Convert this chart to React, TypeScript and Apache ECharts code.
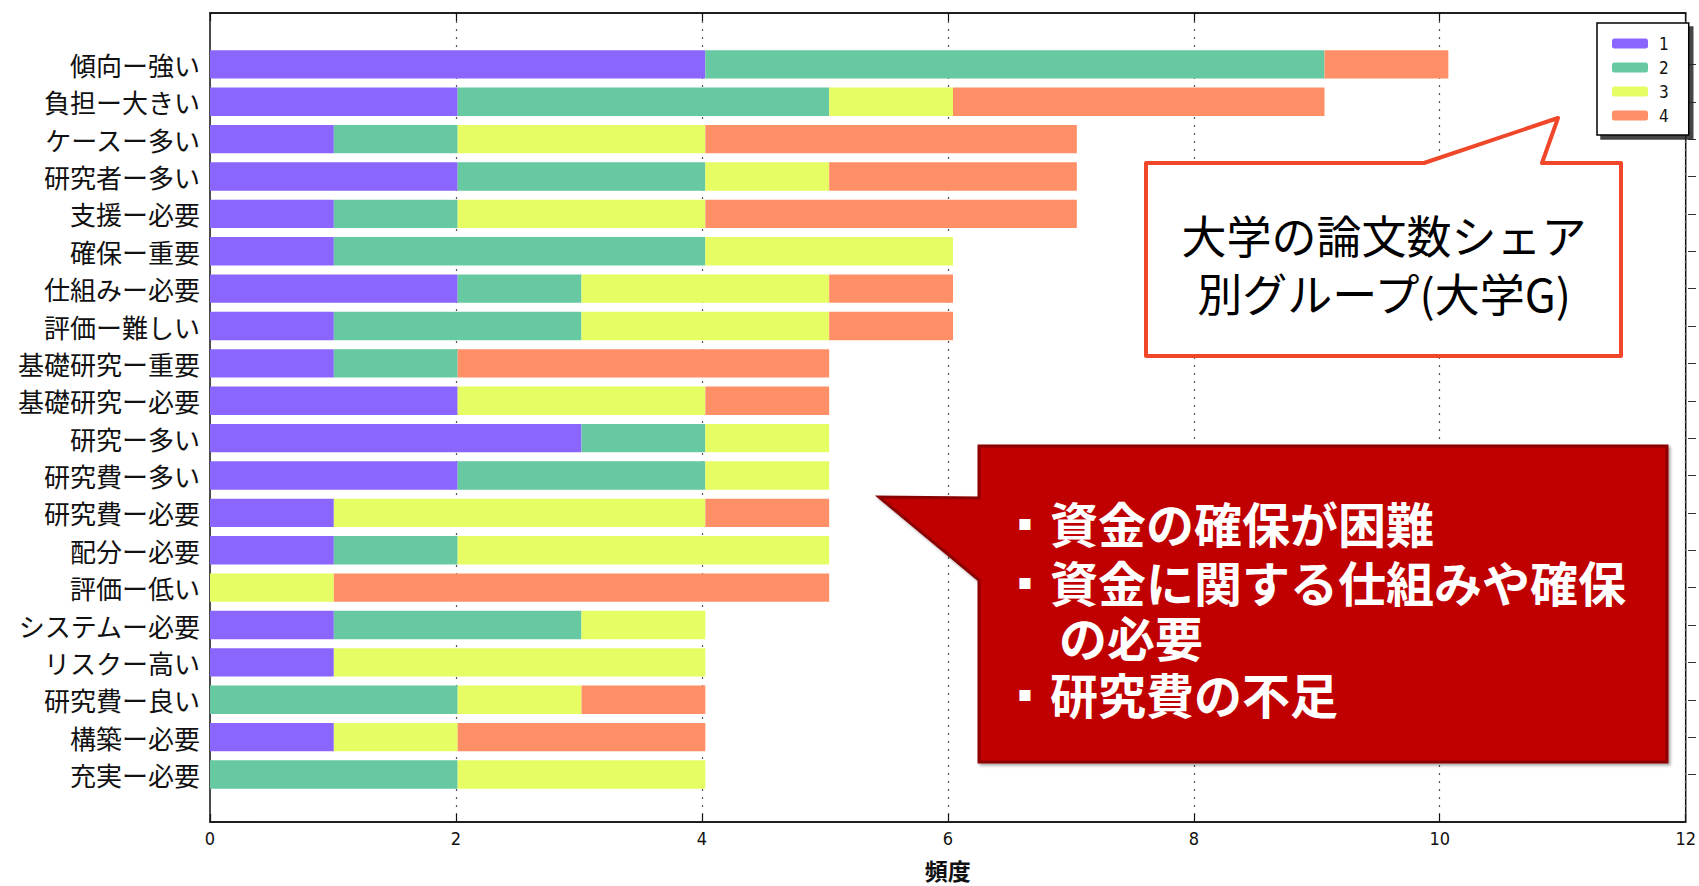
import React, { useEffect, useRef } from "react";
import * as echarts from "echarts";

const categories = [
  "傾向ー強い",
  "負担ー大きい",
  "ケースー多い",
  "研究者ー多い",
  "支援ー必要",
  "確保ー重要",
  "仕組みー必要",
  "評価ー難しい",
  "基礎研究ー重要",
  "基礎研究ー必要",
  "研究ー多い",
  "研究費ー多い",
  "研究費ー必要",
  "配分ー必要",
  "評価ー低い",
  "システムー必要",
  "リスクー高い",
  "研究費ー良い",
  "構築ー必要",
  "充実ー必要",
];

const group1 = [4, 2, 1, 2, 1, 1, 2, 1, 1, 2, 3, 2, 1, 1, 0, 1, 1, 0, 1, 0];
const group2 = [5, 3, 1, 2, 1, 3, 1, 2, 1, 0, 1, 2, 0, 1, 0, 2, 0, 2, 0, 2];
const group3 = [0, 1, 2, 1, 2, 2, 2, 2, 0, 2, 1, 1, 3, 3, 1, 1, 3, 1, 1, 2];
const group4 = [1, 3, 3, 2, 3, 0, 1, 1, 3, 1, 0, 0, 1, 0, 4, 0, 0, 1, 2, 0];

const seriesNames = ["1", "2", "3", "4"];
const seriesColors = ["#8a66ff", "#66c9a1", "#e6fd63", "#ff8f66"];

const xTicks = { min: 0, max: 12, interval: 2 };
const xAxisName = "頻度";

const callout1Lines = ["大学の論文数シェア", "別グループ(大学G)"];
const callout2Lines = ["資金の確保が困難", "資金に関する仕組みや確保", "の必要", "研究費の不足"];

const CJK = '"Noto Sans CJK JP", "Noto Sans CJK SC", sans-serif';
const NARROW = '"Liberation Sans Narrow", "DejaVu Sans Condensed", "Liberation Sans", sans-serif';

export default function App() {
  const ref = useRef<HTMLDivElement>(null);

  useEffect(() => {
    if (!ref.current) return;
    const chart = echarts.init(ref.current, null, { renderer: "svg" });

    const data = [group1, group2, group3, group4];
    const c2y = [522, 581, 636, 693];

    const option: any = {
      animation: false,
      backgroundColor: "#ffffff",
      grid: [
        {
          left: 210,
          right: 3,
          top: 13,
          bottom: 63,
          show: true,
          borderColor: "#111",
          borderWidth: 1.5,
          backgroundColor: "transparent",
        },
        {
          left: 210,
          right: 3,
          top: 45.7,
          bottom: 92.8,
        },
      ],
      legend: {
        data: seriesNames,
        orient: "vertical",
        left: 1597,
        top: 23,
        itemWidth: 36,
        itemHeight: 10,
        itemGap: 7,
        icon: "roundRect",
        padding: [12, 20, 11, 15],
        backgroundColor: "#fff",
        borderColor: "#000",
        borderWidth: 1.5,
        shadowColor: "rgba(40,40,40,0.85)",
        shadowBlur: 1,
        shadowOffsetX: 4,
        shadowOffsetY: 4,
        textStyle: {
          fontFamily: NARROW,
          fontSize: 17,
          color: "#111",
          padding: [0, 0, 0, 6],
        },
        selectedMode: false,
      },
      xAxis: [
        {
          type: "value",
          gridIndex: 0,
          position: "bottom",
          min: xTicks.min,
          max: xTicks.max,
          interval: xTicks.interval,
          name: xAxisName,
          nameLocation: "middle",
          nameGap: 36,
          nameTextStyle: {
            fontFamily: CJK,
            fontWeight: "bold",
            fontSize: 23,
            color: "#111",
          },
          axisLine: { show: true, lineStyle: { color: "#111", width: 1.5 } },
          axisTick: { show: true, inside: true, length: 8, lineStyle: { color: "#111", width: 1.2 } },
          axisLabel: {
            margin: 7,
            fontFamily: NARROW,
            fontSize: 18,
            color: "#111",
          },
          splitLine: {
            show: true,
            lineStyle: { color: "#555", width: 1.2, type: [2, 6] },
          },
        },
        {
          type: "value",
          gridIndex: 0,
          position: "top",
          min: xTicks.min,
          max: xTicks.max,
          interval: xTicks.interval,
          axisLine: { show: true, lineStyle: { color: "#111", width: 1.5 } },
          axisTick: { show: true, inside: true, length: 8, lineStyle: { color: "#111", width: 1.2 } },
          axisLabel: { show: false },
          splitLine: { show: false },
        },
        {
          type: "value",
          gridIndex: 1,
          min: xTicks.min,
          max: xTicks.max,
          show: false,
        },
      ],
      yAxis: [
        {
          type: "value",
          gridIndex: 0,
          min: 0,
          max: 1,
          show: false,
        },
        {
          type: "category",
          gridIndex: 1,
          position: "left",
          inverse: true,
          data: categories,
          axisLine: { show: false },
          axisTick: {
            show: true,
            inside: true,
            alignWithLabel: true,
            interval: 0,
            length: 6,
            lineStyle: { color: "#333", width: 1 },
          },
          axisLabel: {
            interval: 0,
            margin: 10,
            fontFamily: CJK,
            fontSize: 26,
            color: "#111",
          },
        },
        {
          type: "category",
          gridIndex: 1,
          position: "right",
          inverse: true,
          data: categories,
          axisLine: { show: false },
          axisTick: {
            show: true,
            inside: true,
            alignWithLabel: true,
            interval: 0,
            length: 8,
            lineStyle: { color: "#333", width: 1 },
          },
          axisLabel: { show: false },
        },
      ],
      series: seriesNames.map((name, i) => ({
        name,
        type: "bar",
        stack: "total",
        xAxisIndex: 2,
        yAxisIndex: 1,
        barCategoryGap: "24%",
        data: data[i],
        itemStyle: { color: seriesColors[i] },
        emphasis: { disabled: true },
      })),
      graphic: [
        {
          type: "polygon",
          z: 100,
          shape: {
            points: [
              [1146, 163],
              [1424, 163],
              [1558, 118],
              [1542, 163],
              [1621, 163],
              [1621, 356],
              [1146, 356],
            ],
          },
          style: { fill: "#ffffff", stroke: "#f0472a", lineWidth: 4, lineJoin: "round" },
        },
        ...callout1Lines.map((t, i) => ({
          type: "text",
          z: 101,
          style: {
            text: t,
            x: 1384,
            y: 234 + i * 58,
            fill: "#000",
            font: `normal 45px ${CJK}`,
            lineHeight: 46,
            textAlign: "center",
            textVerticalAlign: "middle",
          },
        })),
        {
          type: "polygon",
          z: 100,
          shape: {
            points: [
              [979, 446],
              [1667, 446],
              [1667, 762],
              [979, 762],
              [979, 580],
              [879, 497],
              [979, 498],
            ],
          },
          style: {
            fill: "#c00000",
            stroke: "#8c0000",
            lineWidth: 3,
            shadowColor: "rgba(0,0,0,0.35)",
            shadowBlur: 3,
            shadowOffsetX: 2,
            shadowOffsetY: 2,
          },
        },
        ...callout2Lines.map((t, i) => ({
          type: "text",
          z: 101,
          style: {
            text: t,
            x: i === 2 ? 1059 : 1050,
            y: c2y[i],
            fill: "#fff",
            font: `bold 48px ${CJK}`,
            lineHeight: 50,
            textAlign: "left",
            textVerticalAlign: "middle",
          },
        })),
        ...[0, 1, 3].map((i) => ({
          type: "text",
          z: 101,
          style: {
            text: "▪",
            x: 1025,
            y: c2y[i],
            fill: "#fff",
            font: `normal 22px "DejaVu Sans", sans-serif`,
            textAlign: "center",
            textVerticalAlign: "middle",
          },
        })),
      ],
    };

    chart.setOption(option);
    return () => chart.dispose();
  }, []);

  return (
    <div
      ref={ref}
      style={{ position: "fixed", left: 0, top: 0, width: 1699, height: 886, background: "#fff" }}
    />
  );
}
